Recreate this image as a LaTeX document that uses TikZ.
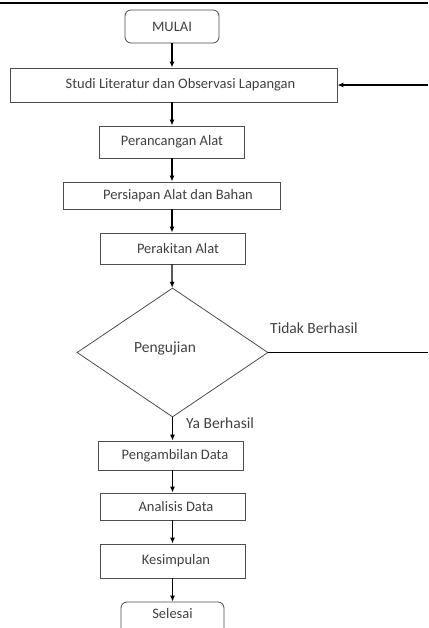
\documentclass[tikz,border=0pt]{standalone}
\usepackage{fontspec}
\setmainfont{Carlito}
\usetikzlibrary{arrows.meta, positioning, shapes.geometric}

\begin{document}
\begin{tikzpicture}[
    x=1pt, y=-1pt,
    box/.style={draw=black!70, line width=0.8pt, minimum height=30pt, text centered, font=\fontsize{14.5}{16}\selectfont, text=black!75, inner sep=2pt},
    term/.style={box, rounded corners=6pt},
    keputusan/.style={draw=black!70, line width=0.8pt, diamond, minimum width=191pt, minimum height=129pt, inner sep=0pt},
    arr/.style={-{Latex[length=6pt, width=5pt]}, line width=1.3pt},
    lbl/.style={font=\fontsize{15.5}{17}\selectfont, text=black!75, inner sep=0pt},
]
\clip (0,0) rectangle (428,628);
\useasboundingbox (0,0) rectangle (428,628);

% ---- Garis atas halaman ----
\draw[line width=1.8pt] (0,3) -- (428,3);

% ---- Langkah penelitian ----
\node[term, minimum width=94pt, minimum height=33pt] (mulai) at (172,26.5) {MULAI};
\node[box, minimum width=327pt, minimum height=34pt] (studi) at (173.5,85) {\hspace{14pt}Studi Literatur dan Observasi Lapangan};
\node[box, minimum width=145pt, minimum height=32pt] (rancang) at (172,142) {Perancangan Alat};
\node[box, minimum width=217pt, minimum height=27pt] (siap) at (172,195.5) {\hspace{12pt}Persiapan Alat dan Bahan};
\node[box, minimum width=145pt, minimum height=31pt] (rakit) at (173,248.5) {\hspace{10pt}Perakitan Alat};

% Keputusan
\node[keputusan] (uji) at (172.5,352.5) {};
\node[lbl] at (165,348) (ujitxt) {Pengujian};

\node[box, minimum width=145pt, minimum height=29pt] (ambil) at (171,455.5) {\hspace{8pt}Pengambilan Data};
\node[box, minimum width=145pt, minimum height=27pt] (analisis) at (173,506.5) {\hspace{6pt}Analisis Data};
\node[box, minimum width=145pt, minimum height=34pt] (simpul) at (173,561) {\hspace{6pt}Kesimpulan};
\node[term, minimum width=103pt, minimum height=38pt, text depth=16pt] (selesai) at (172.5,621) {Selesai};

% ---- Label cabang ----
\node[lbl, anchor=west] (tidak) at (270,328) {Tidak Berhasil};
\node[lbl, anchor=west] (ya) at (186,423) {Ya Berhasil};

% ---- Titik tepi untuk umpan balik ----
\coordinate (tepiA) at (428,85);
\coordinate (tepiB) at (428,352.5);

% ---- Panah ----
\draw[arr] (mulai) -- (mulai |- studi.north);
\draw[arr] (studi.south -| mulai) -- (rancang);
\draw[arr] (rancang) -- (siap);
\draw[arr] (siap) -- (siap |- rakit.north);
\draw[arr] (rakit.south -| siap) -- (uji);
\draw[arr] (uji.south) -- (uji.south |- ambil.north);
\draw[arr] (ambil.south -| uji.south) -- (uji.south |- analisis.north);
\draw[arr] (analisis.south -| uji.south) -- (uji.south |- simpul.north);
\draw[arr] (simpul.south -| uji.south) -- (uji.south |- selesai.north);
\draw[line width=1.5pt] (uji.east) -- (tepiB);
\draw[arr] (tepiA) -- (studi.east);

\end{tikzpicture}
\end{document}
